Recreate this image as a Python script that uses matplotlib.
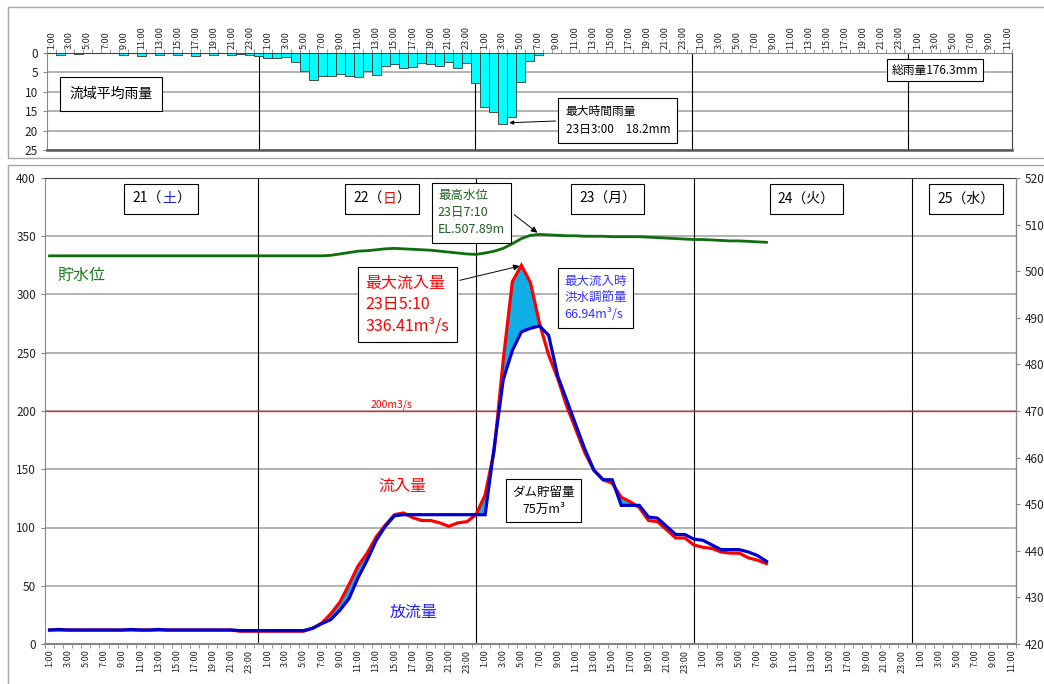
import matplotlib
matplotlib.use("Agg")
import matplotlib.pyplot as plt
from matplotlib.patches import Rectangle
from matplotlib.offsetbox import TextArea, HPacker, AnnotationBbox

plt.rcParams['font.family'] = ['Noto Sans CJK JP', 'DejaVu Sans']

# hours counted from 21日 0:00 (hour 1 = 21日 1:00)
rain_hours = list(range(1, 56))
rain = [0, 0.5, 0, 0.2, 0, 0, 0, 0, 0.5, 0, 0.7, 0, 0.5, 0, 0.5, 0, 0.9, 0, 0.5, 0, 0.6, 0.3, 0.4, 0.9,
        1.3, 1.3, 1.0, 2.3, 4.6, 6.9, 6.0, 6.0, 5.4, 6.0, 6.2, 4.7, 5.7, 3.3, 2.8, 3.9, 3.6, 2.6, 2.8,
        3.4, 2.2, 3.9, 2.6,
        7.8, 13.8, 15.3, 18.2, 16.6, 7.6, 2.0, 0.6]

flow_hours = list(range(1, 81))
inflow = [12, 12, 12, 12, 12, 12, 12, 12, 12, 12, 12, 12, 12, 12, 12, 12, 12, 12, 12, 12, 12,
          11, 11, 11, 11, 11, 11, 11, 11,
          13.5, 18, 26, 36, 51, 67, 78, 92, 102, 111, 112.5, 108.5, 106, 106, 104, 101, 104, 105, 111, 128,
          166, 244, 311, 325, 310, 275, 248, 228, 204, 184, 164, 149, 141, 138, 126, 122, 117, 106, 105, 98,
          91, 91, 85, 83, 82, 79, 78, 78, 74, 72, 69]
outflow = [12, 12.5, 12, 12, 12, 12, 12, 12, 12, 12.5, 12, 12, 12.5, 12, 12, 12, 12, 12, 12, 12, 12,
           11.5, 11.5, 11.5, 11.5, 11.5, 11.5, 11.5, 11.5,
           13.5, 17.5, 21, 29, 39, 57, 72, 89, 101, 110, 111, 111, 111, 111, 111, 111, 111, 111, 111, 111,
           169, 227, 252, 268, 271, 273, 265, 230, 209, 188, 167, 149, 141, 141, 119, 119, 119, 109, 108, 101,
           94, 94, 90, 89, 85, 81, 81, 81, 79, 76, 71]
level = [503.3] * 31 + [
    503.4, 503.7, 504.0, 504.3, 504.4, 504.6, 504.8, 504.9, 504.8, 504.7, 504.6, 504.5, 504.3, 504.1, 503.9, 503.7,
    503.6, 503.9, 504.3, 504.9, 505.9, 507.0, 507.7, 507.89, 507.8, 507.7, 507.6, 507.6, 507.5, 507.5, 507.5,
    507.4, 507.4, 507.4, 507.4, 507.3, 507.2, 507.1, 507.0, 506.9, 506.8, 506.8, 506.7, 506.6, 506.5, 506.5,
    506.4, 506.3, 506.2]

day_lines = [24, 48, 72, 96]
day_boxes = [  # (hour, text parts)
    (13.3, [("21（", "black"), ("土", "#2020E0"), ("）", "black")]),
    (37.6, [("22（", "black"), ("日", "#FF0000"), ("）", "black")]),
    (62.5, [("23（月）", "black")]),
    (84.4, [("24（火）", "black")]),
    (102.0, [("25（水）", "black")]),
]
tick_hours = list(range(1, 108, 2))
tick_labels = ["%d:00" % (h % 24) for h in tick_hours]

W, H = 1044, 684
fig = plt.figure(figsize=(W / 100, H / 100), dpi=100)

# chart area frames
fig.patches.append(Rectangle((8 / W, 1 - 158 / H), 1.2, 151 / H, transform=fig.transFigure,
                             fill=False, ec='#A6A6A6', lw=1))
fig.patches.append(Rectangle((8 / W, -0.2), 1.2, 0.2 + 1 - 165 / H, transform=fig.transFigure,
                             fill=False, ec='#A6A6A6', lw=1))

# ---------------- rain chart ----------------
axr = fig.add_axes([47 / W, 1 - 150 / H, 965 / W, 97 / H])
axr.bar(rain_hours, rain, width=1.0, color='#00FFFF', edgecolor='#333333', lw=0.6, zorder=3)
axr.set_xlim(0.5, 107.5)
axr.set_ylim(25, 0)
axr.set_yticks([0, 5, 10, 15, 20, 25])
axr.yaxis.grid(True, color='#A6A6A6', lw=1.2)
axr.set_axisbelow(True)
for h in day_lines:
    axr.axvline(h, color='black', lw=0.8, zorder=2)
axr.xaxis.tick_top()
axr.set_xticks(tick_hours)
axr.set_xticklabels(tick_labels, rotation=90, fontsize=6.5, color='#222222')
axr.set_xticks([h + 0.5 for h in range(0, 108)], minor=True)
axr.tick_params(axis='x', which='major', length=0, pad=3)
axr.tick_params(axis='x', which='minor', length=3, color='#868686', top=True, bottom=False)
axr.tick_params(axis='y', labelsize=8.5, length=3, color='#868686', labelcolor='#222222')
for s in ['top', 'left']:
    axr.spines[s].set_color('#868686')
axr.spines['bottom'].set_color('#595959')
axr.spines['bottom'].set_linewidth(1.8)
axr.spines['right'].set_color('#404040')

axr.text(7.6, 10.6, "流域平均雨量", fontsize=10, ha='center', va='center',
         bbox=dict(boxstyle='square,pad=0.7', fc='white', ec='black', lw=0.8), zorder=5)
axr.annotate("", xy=(51.45, 18.0), xytext=(57.2, 17.5),
             arrowprops=dict(arrowstyle='-|>', color='black', lw=0.7, mutation_scale=6), zorder=5)
axr.text(63.8, 17.3, "最大時間雨量\n23日3:00　18.2mm", fontsize=8.5, ha='center', va='center',
         multialignment='left', linespacing=1.5,
         bbox=dict(boxstyle='square,pad=0.6', fc='white', ec='black', lw=0.8), zorder=5)
axr.text(98.96, 4.4, "総雨量176.3mm", fontsize=8.5, ha='center', va='center',
         bbox=dict(boxstyle='square,pad=0.4', fc='white', ec='black', lw=0.8), zorder=5)

# ---------------- flow chart ----------------
ax = fig.add_axes([45 / W, 1 - 644 / H, 971 / W, 466 / H])
ax.set_xlim(0.5, 107.5)
ax.set_ylim(0, 400)
ax.set_yticks(range(0, 401, 50))
ax.yaxis.grid(True, color='#A6A6A6', lw=1.2)
ax.set_axisbelow(True)
for h in day_lines:
    ax.axvline(h, color='black', lw=0.8, zorder=2)
ax.axhline(200, color='#FF2020', lw=1.0, zorder=2)

ax.fill_between(flow_hours, inflow, outflow, where=[i > o for i, o in zip(inflow, outflow)],
                interpolate=True, color='#10AEE6', lw=0, zorder=3)
ax.plot(flow_hours, inflow, color='#FF0000', lw=2.3, zorder=4, solid_joinstyle='miter')
ax.plot(flow_hours, outflow, color='#0000CC', lw=2.3, zorder=5, solid_joinstyle='miter')

ax.set_xticks(tick_hours)
ax.set_xticklabels(tick_labels, rotation=90, fontsize=6.5, color='#222222')
ax.set_xticks([h + 0.5 for h in range(0, 108)], minor=True)
ax.tick_params(axis='x', which='major', length=0, pad=4)
ax.tick_params(axis='x', which='minor', length=3, color='#868686')
ax.tick_params(axis='y', labelsize=8.5, length=3, color='#868686', labelcolor='#222222')
for s in ['left', 'bottom']:
    ax.spines[s].set_color('#868686')
ax.spines['bottom'].set_linewidth(1.5)
ax.spines['top'].set_color('#404040')

ax2 = ax.twinx()
ax2.set_ylim(420, 520)
ax2.set_yticks(range(420, 521, 10))
ax2.plot(flow_hours, level, color='#0E6E0E', lw=2.0, zorder=4)
ax2.tick_params(axis='y', labelsize=8.5, length=3, color='#868686', labelcolor='#222222')
ax2.spines['right'].set_color('#868686')
for s in ['left', 'bottom', 'top']:
    ax2.spines[s].set_visible(False)

# day boxes
for hx, parts in day_boxes:
    areas = [TextArea(t, textprops=dict(color=c, fontsize=10)) for t, c in parts]
    pack = HPacker(children=areas, align='baseline', pad=0, sep=0)
    ab = AnnotationBbox(pack, (hx, 382), xycoords=ax.transData, frameon=True,
                        bboxprops=dict(boxstyle='square,pad=0.6', ec='black', lw=0.8, fc='white'),
                        zorder=6)
    ax2.add_artist(ab)

ax2.text(4.5, 316.7, "貯水位", transform=ax.transData, fontsize=11.5, color='#1E7A1E',
         ha='center', va='center')
ax2.text(39.9, 135.6, "流入量", transform=ax.transData, fontsize=11.5, color='#FF0000',
         ha='center', va='center')
ax2.text(41.1, 27.5, "放流量", transform=ax.transData, fontsize=11.5, color='#2020F0',
         ha='center', va='center')
ax2.text(38.7, 201, "200m3/s", transform=ax.transData, fontsize=7.5, color='#FF0000',
         ha='center', va='bottom')

ax2.text(40.45, 291.4, "最大流入量\n23日5:10\n336.41m³/s", transform=ax.transData, fontsize=11.5,
         color='#FF0000', ha='center', va='center', multialignment='left', linespacing=1.35,
         bbox=dict(boxstyle='square,pad=0.45', fc='white', ec='black', lw=0.8), zorder=6)
ax2.annotate("", xy=(53.1, 325), xytext=(45.9, 311.6), xycoords=ax.transData, textcoords=ax.transData,
             arrowprops=dict(arrowstyle='-|>', color='black', lw=0.7, mutation_scale=9), zorder=6)

ax2.text(47.5, 370, "最高水位\n23日7:10\nEL.507.89m", transform=ax.transData, fontsize=9,
         color='#1E5E1E', ha='center', va='center', multialignment='left', linespacing=1.4,
         bbox=dict(boxstyle='square,pad=0.5', fc='white', ec='black', lw=0.8), zorder=6)
ax2.annotate("", xy=(55, 507.89), xytext=(51.96, 370), xycoords='data', textcoords=ax.transData,
             arrowprops=dict(arrowstyle='-|>', color='black', lw=0.7, mutation_scale=9), zorder=6)

ax2.text(61.2, 297, "最大流入時\n洪水調節量\n66.94m³/s", transform=ax.transData, fontsize=9,
         color='#3333FF', ha='center', va='center', multialignment='left', linespacing=1.4,
         bbox=dict(boxstyle='square,pad=0.5', fc='white', ec='black', lw=0.8), zorder=6)

ax2.text(55.45, 123.2, "ダム貯留量\n75万m³", transform=ax.transData, fontsize=9,
         color='black', ha='center', va='center', multialignment='center', linespacing=1.4,
         bbox=dict(boxstyle='square,pad=0.5', fc='white', ec='black', lw=0.8), zorder=6)

fig.savefig("out.png", dpi=100)
